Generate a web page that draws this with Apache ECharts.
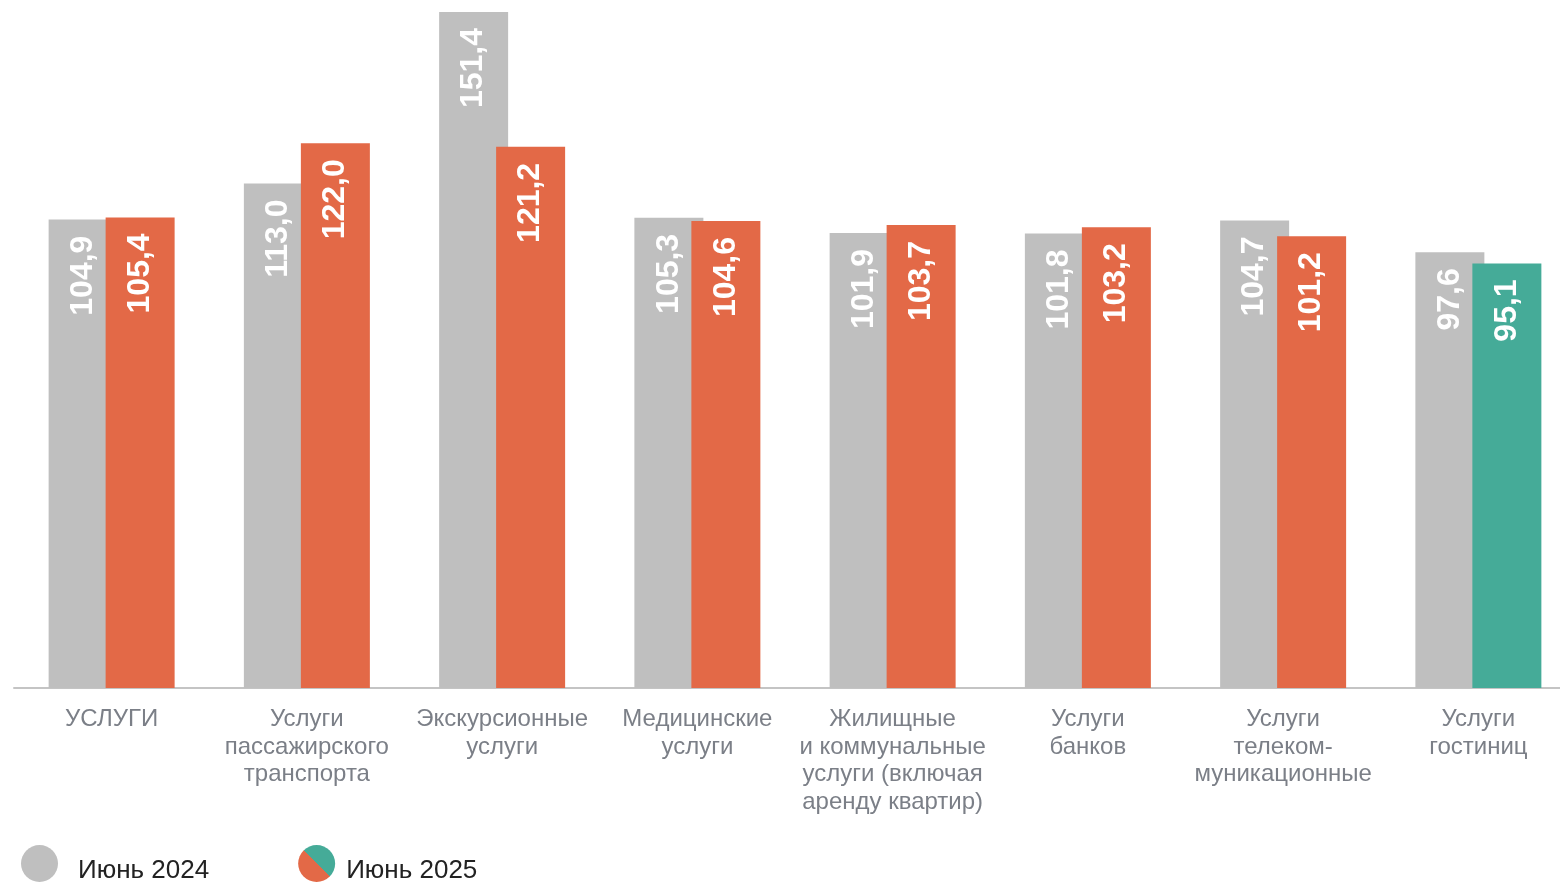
<!DOCTYPE html>
<html><head><meta charset="utf-8">
<script src="https://cdn.jsdelivr.net/npm/echarts@6/dist/echarts.min.js"></script>
<style>html,body{margin:0;padding:0;background:#fff;overflow:hidden}#c{width:1576px;height:883px}</style>
</head><body><div id="c"></div>
<script>
const categories = ['УСЛУГИ','Услуги\nпассажирского\nтранспорта','Экскурсионные\nуслуги','Медицинские\nуслуги','Жилищные\nи коммунальные\nуслуги (включая\nаренду квартир)','Услуги\nбанков','Услуги\nтелеком-\nмуникационные','Услуги\nгостиниц'];
const june2024 = [104.9, 113.0, 151.4, 105.3, 101.9, 101.8, 104.7, 97.6];
const june2025 = [105.4, 122.0, 121.2, 104.6, 103.7, 103.2, 101.2, 95.1];
const GRAY = '#bfbfbf', ORANGE = '#e36947', GREEN = '#45ab98';
const fmt = p => p.value.toFixed(1).replace('.', ',');
const chart = echarts.init(document.getElementById('c'));
const lbl = {show:true, position:'insideTop', rotate:90, align:'right', verticalAlign:'middle', distance:16,
  color:'#fff', fontFamily:'Liberation Sans, Arial, sans-serif', fontWeight:'bold', fontSize:32, formatter: fmt};
const rich = {t:{fontSize:26, color:'#222', fontFamily:'Liberation Sans, Arial, sans-serif', padding:[14,0,0,0]}};
chart.setOption({
  animation:false,
  grid:{left:14, top:12, right:0, bottom:195, containLabel:false},
  legend:{left:21, top:845, padding:0, itemWidth:37, itemHeight:37, itemGap:89, icon:'circle',
    formatter:'{t|{name}}',
    textStyle:{fontSize:26, color:'#222', fontFamily:'Liberation Sans, Arial, sans-serif', padding:[0,0,0,15], rich:rich},
    data:[{name:'Июнь 2024', itemStyle:{color:GRAY}},
          {name:'Июнь 2025', textStyle:{padding:[0,0,0,6], rich:rich},
           itemStyle:{color:new echarts.graphic.LinearGradient(0,1,1,0,[{offset:0,color:ORANGE},{offset:0.5,color:ORANGE},{offset:0.5,color:GREEN},{offset:1,color:GREEN}])}}]},
  xAxis:{type:'category', data:categories,
    axisLine:{lineStyle:{color:'#c4c4c4', width:2}}, axisTick:{show:false},
    axisLabel:{interval:0, color:'#7b7f87', fontSize:24, lineHeight:27.5, margin:18, fontFamily:'Liberation Sans, Arial, sans-serif'}},
  yAxis:{type:'value', min:0, max:151.4, show:false, splitLine:{show:false}},
  series:[
    {name:'Июнь 2024', type:'bar', data:june2024, barWidth:69, barGap:'-17.4%', itemStyle:{color:GRAY}, label:lbl},
    {name:'Июнь 2025', type:'bar', data:june2025.map((v,i)=> i===june2025.length-1 ? {value:v, itemStyle:{color:GREEN}} : v),
      barWidth:69, itemStyle:{color:ORANGE}, label:lbl}
  ]
});
</script></body></html>
